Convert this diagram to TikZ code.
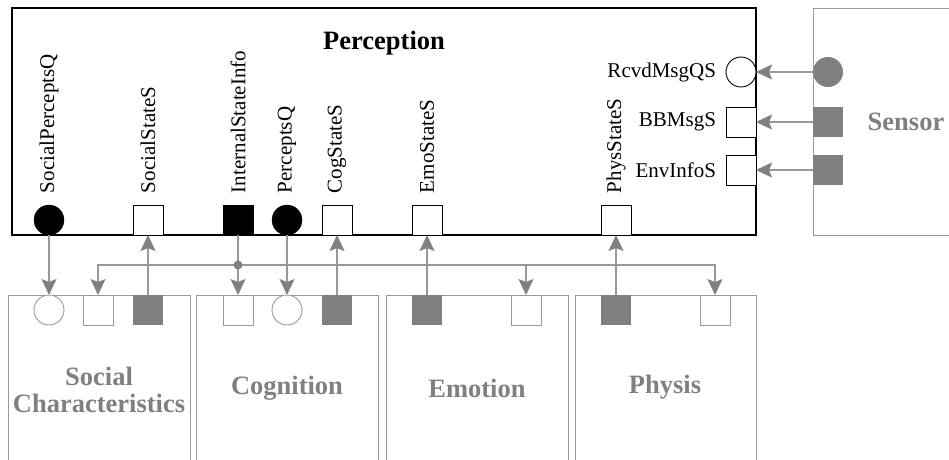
\documentclass[tikz,border=0pt]{standalone}
\usepackage{fontspec}
\setmainfont{Liberation Serif}
\usetikzlibrary{arrows.meta}
\definecolor{port}{HTML}{808080}
\definecolor{frame}{HTML}{999999}
\begin{document}
\begin{tikzpicture}[x=1pt,y=-1pt,
  every node/.style={inner sep=0pt, outer sep=0pt},
  lbl/.style={font=\fontsize{21}{24}\selectfont},
  vlbl/.style={lbl, rotate=90, anchor=west},
  ttl/.style={font=\fontsize{26.5}{29}\selectfont\bfseries},
  gttl/.style={ttl, text=port, align=center},
  wsq/.style={draw=black, fill=white, minimum size=30pt, line width=0.9pt},
  bsq/.style={draw=black, fill=black, minimum size=30pt},
  bcirc/.style={circle, draw=black, fill=black, minimum size=30pt},
  wcirc/.style={circle, draw=black, fill=white, minimum size=30pt, line width=0.9pt},
  gsq/.style={fill=port, minimum size=30pt},
  gcirc/.style={circle, fill=port, minimum size=30pt},
  lsq/.style={draw=frame, fill=white, minimum size=30pt, line width=0.9pt},
  lcirc/.style={circle, draw=frame, fill=white, minimum size=30pt, line width=0.9pt},
  comp/.style={draw=frame, line width=1pt},
  wire/.style={draw=frame, line width=1.3pt},
  conn/.style={wire, -{Stealth[length=16pt, width=15pt, inset=3pt, fill=port, color=port]}},
]
\useasboundingbox (0,0) rectangle (949,459);
\clip (0,0) rectangle (949,459);

% module frames
\draw[line width=1.2pt] (12,8) rectangle (756,235);
\draw[comp] (813,8) rectangle (980,235);
\draw[comp] (8,295) rectangle (190,480);
\draw[comp] (196,295) rectangle (378,480);
\draw[comp] (386,295) rectangle (568,480);
\draw[comp] (575,295) rectangle (756,480);

% module titles
\node[ttl] (perception) at (384,43) {Perception};
\node[gttl] (sensor) at (906,122) {Sensor};
\node[gttl] (social) at (99,390) {Social\\[-2pt]Characteristics};
\node[gttl] (cognition) at (287,388) {Cognition};
\node[gttl] (emotion) at (477,388) {Emotion};
\node[gttl] (physis) at (665,387) {Physis};

% Perception ports (bottom edge)
\node[bcirc] (spq) at (49,220) {};
\node[wsq]   (sss) at (148,220) {};
\node[bsq]   (isi) at (238,220) {};
\node[bcirc] (pq)  at (287,220) {};
\node[wsq]   (css) at (337,220) {};
\node[wsq]   (ess) at (427,220) {};
\node[wsq]   (pss) at (616,220) {};
\node[vlbl] at (49,193)  {SocialPerceptsQ};
\node[vlbl] at (148,193) {SocialStateS};
\node[vlbl] at (238,193) {InternalStateInfo};
\node[vlbl] at (287,193) {PerceptsQ};
\node[vlbl] at (337,193) {CogStateS};
\node[vlbl] at (427,193) {EmoStateS};
\node[vlbl] at (616,193) {PhysStateS};

% Perception ports (right edge)
\node[wcirc] (rmq) at (741,72) {};
\node[wsq]   (bbm) at (741,122) {};
\node[wsq]   (env) at (741,170) {};
\node[lbl, anchor=east] at (716,72)  {RcvdMsgQS};
\node[lbl, anchor=east] at (716,122) {BBMsgS};
\node[lbl, anchor=east] at (716,170) {EnvInfoS};

% Sensor ports
\node[gcirc] (s1) at (828,72) {};
\node[gsq]   (s2) at (828,122) {};
\node[gsq]   (s3) at (828,170) {};

% lower module ports
\node[lcirc] (sc1) at (49,310) {};
\node[lsq]   (sc2) at (98,310) {};
\node[gsq]   (sc3) at (148,310) {};
\node[lsq]   (cg1) at (238,310) {};
\node[lcirc] (cg2) at (287,310) {};
\node[gsq]   (cg3) at (337,310) {};
\node[gsq]   (em1) at (427,310) {};
\node[lsq]   (em2) at (526,310) {};
\node[gsq]   (ph1) at (616,310) {};
\node[lsq]   (ph2) at (715,310) {};

% sensor to perception
\draw[conn] (s1.west) -- (rmq.east);
\draw[conn] (s2.west) -- (bbm.east);
\draw[conn] (s3.west) -- (env.east);

% perception to lower modules and back
\draw[conn] (spq.south) -- (sc1.north);
\draw[conn] (sc3.north) -- (sss.south);
\draw[conn] (pq.south) -- (cg2.north);
\draw[conn] (cg3.north) -- (css.south);
\draw[conn] (em1.north) -- (ess.south);
\draw[conn] (ph1.north) -- (pss.south);

% internal state distribution bus
\coordinate (jn) at (238,265);
\draw[wire] (isi.south) -- (jn);
\draw[conn] (jn) -- (cg1.north);
\draw[conn] (jn) -| (sc2.north);
\draw[conn] (jn) -| (em2.north);
\draw[conn] (jn) -| (ph2.north);
\fill[port] (jn) circle (4.5pt);
\end{tikzpicture}
\end{document}
